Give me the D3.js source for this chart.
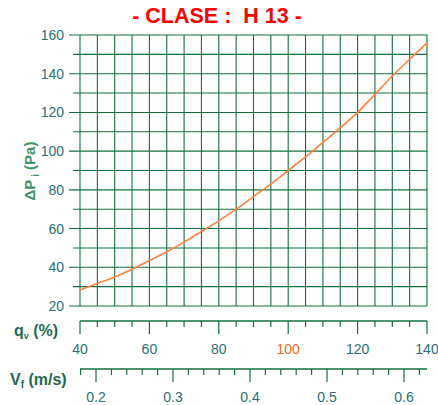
<!DOCTYPE html>
<html>
<head>
<meta charset="utf-8">
<script src="https://cdn.jsdelivr.net/npm/d3@7"></script>
<style>
  body { margin: 0; background: #fff; }
  svg { font-family: "Liberation Sans", Arial, sans-serif; }
</style>
</head>
<body>
<div id="chart"></div>
<script>
// data
const qvValues = [40, 45, 50, 55, 60, 65, 70, 75, 80, 85, 90, 95, 100, 105, 110, 115, 120, 125, 130, 135, 140];
const dpValues = [28.3, 31.6, 35, 39, 43.5, 48, 53, 58.5, 64, 70, 76.5, 83, 90, 97, 104.5, 112, 120, 129.3, 138.8, 147.5, 155.8];
const yTicks = [20, 40, 60, 80, 100, 120, 140, 160];
const qvTicks = [40, 60, 80, 100, 120, 140];
const vfTicks = [0.2, 0.3, 0.4, 0.5, 0.6];

const W = 438, H = 405;
const gridColor = '#12703f';
const labelColor = '#2b6f78';

const svg = d3.select('#chart')
  .append('svg')
  .attr('width', W)
  .attr('height', H);

const x = d3.scaleLinear().domain([40, 140]).range([80, 427]);
const y = d3.scaleLinear().domain([20, 160]).range([306, 35]);
// velocity axis shares the same pixel span as qv
const vf = d3.scaleLinear().domain([0.2, 0.6]).range([96, 404]);

// title
svg.append('text')
  .attr('x', 217)
  .attr('y', 23)
  .attr('text-anchor', 'middle')
  .attr('fill', '#ff0000')
  .attr('font-weight', 'bold')
  .attr('font-size', 21.5)
  .attr('xml:space', 'preserve')
  .text('- CLASE :  H 13 -');

// grid
const grid = svg.append('g');
d3.range(40, 141, 5).forEach(v => {
  grid.append('line')
    .attr('x1', x(v)).attr('x2', x(v))
    .attr('y1', y(160)).attr('y2', y(20))
    .attr('stroke', gridColor).attr('stroke-width', 1.1);
});
d3.range(20, 161, 10).forEach(v => {
  grid.append('line')
    .attr('x1', yTicks.includes(v) ? 69 : 73).attr('x2', x(140))
    .attr('y1', y(v)).attr('y2', y(v))
    .attr('stroke', gridColor).attr('stroke-width', 1.1);
});

// y tick labels
svg.append('g').selectAll('text')
  .data(yTicks)
  .join('text')
  .attr('x', 64)
  .attr('y', d => y(d) + 5)
  .attr('text-anchor', 'end')
  .attr('font-size', 14)
  .attr('fill', labelColor)
  .text(d => d);

// y axis title
const yt = svg.append('text')
  .attr('transform', 'translate(35,171) rotate(-90)')
  .attr('text-anchor', 'middle')
  .attr('font-size', 15)
  .attr('font-weight', 'bold')
  .attr('fill', '#3d9468');
yt.append('tspan').text('\u0394P');
yt.append('tspan').attr('font-size', 10).attr('dy', 4).text(' i');
yt.append('tspan').attr('dy', -4).text(' (Pa)');

// curve
const line = d3.line()
  .x((d, i) => x(qvValues[i]))
  .y(d => y(d))
  .curve(d3.curveMonotoneX);

svg.append('path')
  .datum(dpValues)
  .attr('d', line)
  .attr('fill', 'none')
  .attr('stroke', '#ff8040')
  .attr('stroke-width', 1.6);

// qv axis
const qvAxis = svg.append('g').attr('transform', 'translate(0,321)');
qvAxis.append('line')
  .attr('x1', x(40)).attr('x2', x(140))
  .attr('stroke', gridColor).attr('stroke-width', 1.3);
qvAxis.selectAll('line.tick')
  .data(d3.range(40, 141, 5))
  .join('line')
  .attr('class', 'tick')
  .attr('x1', d => x(d)).attr('x2', d => x(d))
  .attr('y1', 0).attr('y2', d => qvTicks.includes(d) ? 13 : 6)
  .attr('stroke', gridColor).attr('stroke-width', 1.2);
qvAxis.selectAll('text')
  .data(qvTicks)
  .join('text')
  .attr('x', d => x(d))
  .attr('y', 33)
  .attr('text-anchor', 'middle')
  .attr('font-size', 14)
  .attr('fill', d => d === 100 ? '#f7642e' : labelColor)
  .text(d => d);

const qvTitle = svg.append('text')
  .attr('x', 14).attr('y', 336)
  .attr('font-size', 16).attr('font-weight', 'bold')
  .attr('fill', '#1f6a55');
qvTitle.append('tspan').text('q');
qvTitle.append('tspan').attr('font-size', 9).attr('dy', 3).text('v');
qvTitle.append('tspan').attr('dy', -3).text(' (%)');

// Vf axis
const vfAxis = svg.append('g').attr('transform', 'translate(0,369)');
vfAxis.append('line')
  .attr('x1', x(40)).attr('x2', x(140))
  .attr('stroke', gridColor).attr('stroke-width', 1.3);
vfAxis.selectAll('line.tick')
  .data(d3.range(9, 32).map(k => k * 0.02))
  .join('line')
  .attr('class', 'tick')
  .attr('x1', d => vf(d)).attr('x2', d => vf(d))
  .attr('y1', 0).attr('y2', d => Math.abs(d * 10 - Math.round(d * 10)) < 1e-6 ? 13 : 6)
  .attr('stroke', gridColor).attr('stroke-width', 1.2);
vfAxis.selectAll('text')
  .data(vfTicks)
  .join('text')
  .attr('x', d => vf(d))
  .attr('y', 33)
  .attr('text-anchor', 'middle')
  .attr('font-size', 14)
  .attr('fill', labelColor)
  .text(d => d);

const vfTitle = svg.append('text')
  .attr('x', 10).attr('y', 385)
  .attr('font-size', 16).attr('font-weight', 'bold')
  .attr('fill', '#1f6a55');
vfTitle.append('tspan').text('V');
vfTitle.append('tspan').attr('font-size', 10).attr('dy', 3).text('f');
vfTitle.append('tspan').attr('dy', -3).text(' (m/s)');
</script>
</body>
</html>
